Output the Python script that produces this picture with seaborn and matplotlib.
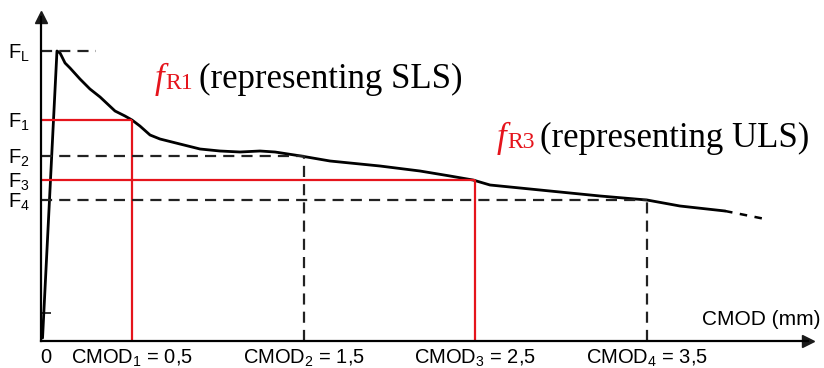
import numpy as np
import pandas as pd
import matplotlib
matplotlib.use("Agg")
import matplotlib.pyplot as plt
import seaborn as sns

# load-CMOD curve (CMOD in mm, force in arbitrary units)
cmod_curve = [-0.02, 0.064, 0.082, 0.111, 0.140, 0.198, 0.256, 0.315, 0.402,
              0.460, 0.501, 0.547, 0.606, 0.664, 0.780, 0.897, 1.013, 1.130,
              1.246, 1.334, 1.485, 1.654, 1.945, 2.178, 2.353, 2.487, 2.586,
              2.935, 3.227, 3.500, 3.692, 3.955]
force_curve = [0.3, 29.0, 28.8, 27.8, 27.3, 26.2, 25.2, 24.4, 23.0,
               22.5, 22.1, 21.5, 20.6, 20.2, 19.7, 19.2, 19.0, 18.9,
               19.0, 18.9, 18.5, 18.0, 17.5, 17.0, 16.5, 16.1, 15.6,
               15.0, 14.5, 14.1, 13.5, 13.0]
# extrapolated (dashed) tail
cmod_tail = [3.955, 4.188]
force_tail = [13.0, 12.2]

# characteristic values
F_L = 29.0
cmod_marks = [0.5, 1.5, 2.5, 3.5]
f_marks = [22.1, 18.5, 16.1, 14.1]
mark_red = [True, False, True, False]
x_labels = ["0"] + [rf"CMOD$_\mathregular{{{i}}}$ = {str(v).replace('.', ',')}"
                    for i, v in enumerate(cmod_marks, 1)]
y_labels = [r"F$_\mathregular{L}$"] + [rf"F$_\mathregular{{{i}}}$" for i in range(1, 5)]

RED = "#e5141c"

df = pd.DataFrame({"cmod": cmod_curve, "force": force_curve})

sns.set_theme(style="white")
plt.rcParams["font.family"] = ["Liberation Sans", "DejaVu Sans"]
plt.rcParams["text.color"] = "black"

fig = plt.figure(figsize=(8.24, 3.68), dpi=100)
ax = fig.add_axes([41 / 824, 27 / 368, 767 / 824, 324 / 368])
xmin, xmax = -0.029, 4.438
ax.set_xlim(xmin, xmax)
ax.set_ylim(0, 32.4)

sns.lineplot(data=df, x="cmod", y="force", color="black", lw=2.0,
             sort=False, ax=ax)
ax.plot(cmod_tail, force_tail, color="black", lw=1.8, ls=(0, (3, 3)))

dash = (0, (5, 3.2))
# F_L level
ax.hlines(F_L, xmin, 0.29, color="#222222", lw=1.6, linestyles=dash)
# F_i levels and CMOD_i verticals
for c, f, red in zip(cmod_marks, f_marks, mark_red):
    if red:
        ax.hlines(f, xmin, c, color=RED, lw=1.6)
        ax.vlines(c, 0, f, color=RED, lw=1.6)
    else:
        ax.hlines(f, xmin, c, color="#222222", lw=1.6, linestyles=dash)
        ax.vlines(c, 0, f, color="#222222", lw=1.6, linestyles=dash)

# axes with arrows
for s in ["top", "right"]:
    ax.spines[s].set_visible(False)
for s in ["left", "bottom"]:
    ax.spines[s].set_color("black")
    ax.spines[s].set_linewidth(1.6)
ax.plot(1, 0, ">k", ms=8, transform=ax.transAxes, clip_on=False)
ax.plot(0, 1, "^k", ms=8, transform=ax.transAxes, clip_on=False)

ax.set_xticks([0] + cmod_marks)
ax.set_xticklabels(x_labels, fontsize=14.5)
ax.set_yticks([F_L] + f_marks)
ax.set_yticklabels(y_labels, fontsize=14.5)
ax.tick_params(axis="both", length=0, colors="black")
ax.tick_params(axis="x", pad=5)
ax.tick_params(axis="y", pad=8)
ax.set_yticks([2.8], minor=True)
ax.tick_params(axis="y", which="minor", direction="in", length=7, width=1.3,
               left=True)
ax.set_xlabel("")
ax.set_ylabel("")
fig.text(820 / 824, 0.105, "CMOD (mm)", ha="right", va="bottom",
         fontsize=15, color="black")

# f_R annotations
serif = ["Liberation Serif", "DejaVu Serif"]
for x0, y0, sub, txt in [(0.635, 25.3, "R1", "(representing SLS)"),
                         (2.627, 19.4, "R3", "(representing ULS)")]:
    t1 = ax.text(x0, y0, "f", color=RED, family=serif, style="italic",
                 fontsize=25, va="baseline")
    t2 = ax.annotate(sub, xycoords=(t1, "data"), xy=(1, y0), va="baseline",
                     color=RED, family=serif, fontsize=17, xytext=(0.5, -1),
                     textcoords="offset points")
    ax.annotate(txt, xycoords=(t2, "data"), xy=(1, y0), va="baseline",
                color="black", family=serif, fontsize=25, xytext=(4, 0),
                textcoords="offset points")

fig.savefig("out.png", dpi=100)
